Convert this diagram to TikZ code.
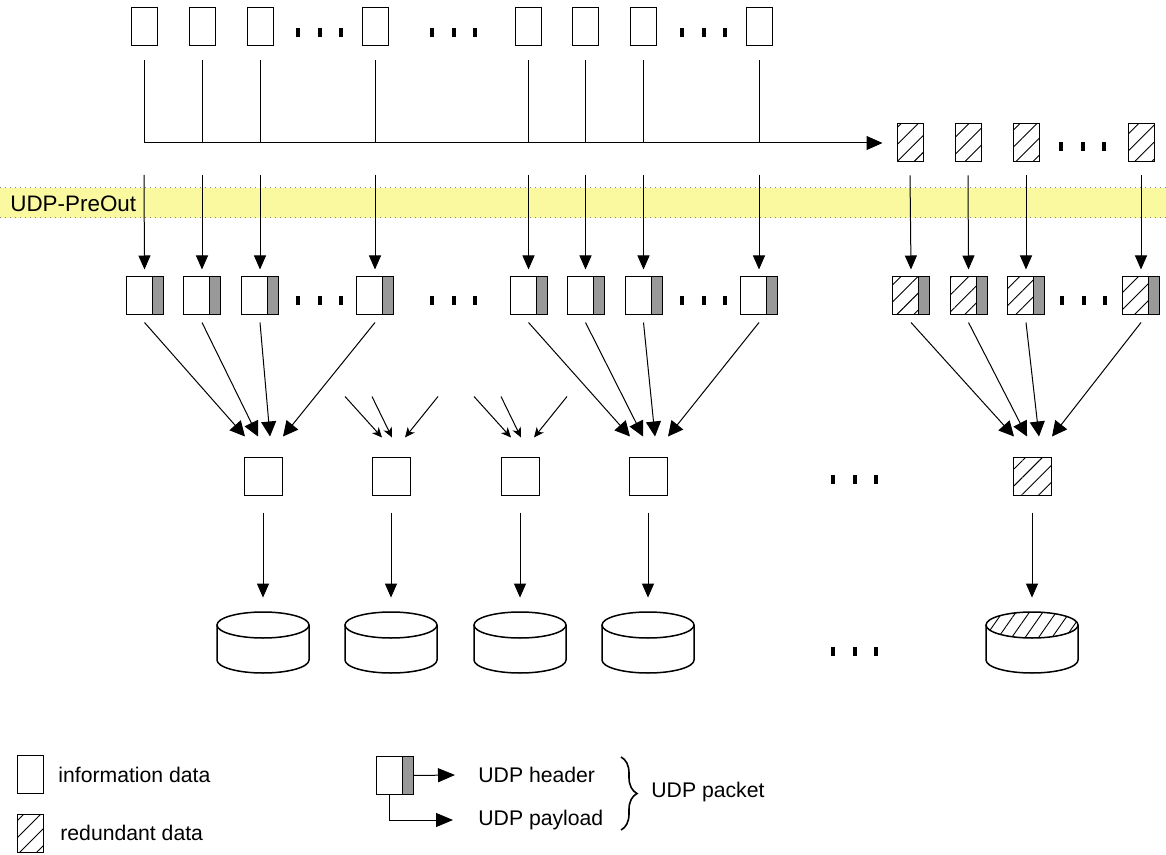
\documentclass[tikz,border=0pt]{standalone}
\usepackage{fontspec}
\setmainfont{Liberation Sans}
\usetikzlibrary{arrows.meta,patterns.meta,decorations.pathreplacing}
\definecolor{bandyellow}{RGB}{250,249,160}
\definecolor{hdrgray}{RGB}{153,153,153}
\newcommand\tridots[2]{\foreach \i in {0,1,2} \fill ({#1+21.5*\i-2},{#2-4.5}) rectangle ({#1+21.5*\i+2},{#2+4.5});}
\newcommand\cyl[2]{%
  \fill[white] (#1-46,625) -- (#1-46,660) arc[start angle=180,end angle=360,x radius=23pt,y radius=6.5pt] -- (#1+46,625) -- cycle;
  \draw[diskline] (#1-46,625) -- (#1-46,660) arc[start angle=180,end angle=360,x radius=23pt,y radius=6.5pt] -- (#1+46,625);
  \draw[diskline,#2] (#1,625) ellipse[x radius=23pt,y radius=6.5pt];}
\tikzset{
  x=0.5pt, y=-0.5pt,
  hatch/.style={pattern={Lines[angle=45,distance=6pt,line width=0.45pt]}},
  dhatch/.style={pattern={Lines[angle=55,distance=5.5pt,line width=0.45pt]}},
  databox/.style={draw, line width=0.5pt, fill=white, minimum width=13pt, minimum height=19pt, inner sep=0pt},
  redbox/.style={databox, postaction={hatch}},
  sinkbox/.style={draw, line width=0.5pt, fill=white, minimum width=19pt, minimum height=19pt, inner sep=0pt},
  redsink/.style={sinkbox, postaction={hatch}},
  packet/.style={draw, line width=0.5pt, fill=white, minimum width=18.5pt, minimum height=19pt, inner sep=0pt,
    path picture={\fill[hdrgray] ([xshift=-5.5pt]path picture bounding box.north east) rectangle (path picture bounding box.south east);
      \draw[line width=0.5pt] ([xshift=-5.5pt]path picture bounding box.north east) -- ([xshift=-5.5pt]path picture bounding box.south east);}},
  rpacket/.style={draw, line width=0.5pt, fill=white, minimum width=18.5pt, minimum height=19pt, inner sep=0pt,
    path picture={\fill[hatch] (path picture bounding box.north west) rectangle ([xshift=-5.5pt]path picture bounding box.south east);
      \fill[hdrgray] ([xshift=-5.5pt]path picture bounding box.north east) rectangle (path picture bounding box.south east);
      \draw[line width=0.5pt] ([xshift=-5.5pt]path picture bounding box.north east) -- ([xshift=-5.5pt]path picture bounding box.south east);}},
  diskpos/.style={minimum width=46pt, minimum height=30.5pt, inner sep=0pt},
  diskline/.style={line width=0.75pt},
  thinline/.style={line width=0.5pt},
  varr/.style={line width=0.5pt, -{Triangle[length=7pt,width=6pt]}},
  bigarr/.style={line width=0.5pt, -{Triangle[length=7.5pt,width=7.5pt]}},
  smallarr/.style={line width=0.5pt, -{Stealth[length=5pt,width=4.5pt,inset=1.5pt]}},
  larr/.style={line width=0.5pt, -{Triangle[length=8.5pt,width=7pt]}},
  lbl/.style={inner sep=0pt, font=\fontsize{10.6}{12}\selectfont},
}
\begin{document}
\begin{tikzpicture}
\useasboundingbox (0,0) rectangle (1166,855);
% band
\fill[bandyellow] (0,188) rectangle (1166,218);
\draw[gray, dotted, line width=0.5pt] (0,188) -- (1166,188);
\draw[gray, dotted, line width=0.5pt] (0,218) -- (1166,218);
\node[lbl, anchor=west, font=\fontsize{11.2}{13}\selectfont] (bandlbl) at (10,204) {UDP-PreOut};
\coordinate (bus) at (0,143);
\coordinate (bandtop) at (0,175);
% top data boxes
\foreach \n/\x in {1/144,2/202,3/260,4/375,5/528.5,6/585.5,7/643.5,8/759}
  \node[databox] (d\n) at (\x,27) {};
\foreach \n/\x in {1/910,2/968,3/1026,4/1141}
  \node[redbox] (r\n) at (\x,143) {};
% packets
\foreach \n/\x in {1/144.5,2/202,3/260,4/375,5/528.5,6/585.5,7/643.5,8/759}
  \node[packet] (p\n) at (\x,296) {};
\foreach \n/\x in {1/911,2/968.5,3/1026,4/1141}
  \node[rpacket] (q\n) at (\x,296) {};
% sinks
\foreach \n/\x in {1/263,2/391,3/520,4/648}
  \node[sinkbox] (s\n) at (\x,476) {};
\node[redsink] (s5) at (1032,476) {};
% disks
\foreach \n/\x in {1/263,2/391,3/520,4/648,5/1032}
  \node[diskpos] (k\n) at (\x,642.5) {};
\foreach \x in {263,391,520,648} {\cyl{\x}{fill=white}}
\cyl{1032}{fill=white, postaction={dhatch}}
% dots
\tridots{298}{32.5}
\tridots{432}{32.5}
\tridots{682}{32.5}
\tridots{1061}{147}
\tridots{298}{301}
\tridots{432}{301}
\tridots{682}{301}
\tridots{1062}{301}
\tridots{833}{479}
\tridots{833}{651}
% bus lines
\foreach \n in {1,...,8} {
  \draw[thinline] ([yshift=-7pt]d\n.south) -- (d\n.south |- bus);
  \draw[varr] (d\n.south |- bandtop) -- ([yshift=3.5pt]p\n.north);
}
\draw[line width=0.5pt, -{Triangle[length=8pt,width=7pt]}] (d1.south |- bus) -- ([xshift=-7pt]r1.west);
\foreach \n in {1,...,4}
  \draw[varr] ([yshift=-6.5pt]r\n.south) -- ([yshift=3.5pt]q\n.north);
% aggregation arrows
\foreach \src/\dx in {p1/-9,p2/-2.5,p3/3.5,p4/10}
  \draw[bigarr] ([yshift=-3.5pt]\src.south) -- ([xshift=\dx pt,yshift=10pt]s1.north);
\foreach \src/\dx in {p5/-9,p6/-2.5,p7/3.5,p8/10}
  \draw[bigarr] ([yshift=-3.5pt]\src.south) -- ([xshift=\dx pt,yshift=10pt]s4.north);
\foreach \src/\dx in {q1/-9,q2/-2.5,q3/3.5,q4/10}
  \draw[bigarr] ([yshift=-3.5pt]\src.south) -- ([xshift=\dx pt,yshift=10pt]s5.north);
\foreach \s in {2,3} {
  \coordinate (a\s a) at ([xshift=-23pt,yshift=30pt]s\s.north);
  \coordinate (a\s b) at ([xshift=-9.5pt,yshift=30pt]s\s.north);
  \coordinate (a\s c) at ([xshift=23.5pt,yshift=30pt]s\s.north);
  \draw[smallarr] (a\s a) -- ([xshift=-4.5pt,yshift=9.5pt]s\s.north);
  \draw[smallarr] (a\s b) -- ([xshift=0.5pt,yshift=9.5pt]s\s.north);
  \draw[smallarr] (a\s c) -- ([xshift=7pt,yshift=9.5pt]s\s.north);
}
% sink to disk
\foreach \n in {1,...,5}
  \draw[varr] ([yshift=-8.5pt]s\n.south) -- ([yshift=7pt]k\n.north);
% legend
\node[databox] (li) at (30.5,774.5) {};
\node[lbl, anchor=west] (tinfo) at (58,775) {information data};
\node[redbox] (lr) at (30.5,833) {};
\node[lbl, anchor=west] (tred) at (60,833) {redundant data};
\node[packet] (lp) at (394.5,775.5) {};
\node[lbl, anchor=west] (th) at (478,775) {UDP header};
\node[lbl, anchor=west] (tp) at (478,820) {UDP payload};
\draw[larr] (lp.east) -- ([xshift=-11.5pt]th.west);
\draw[larr] ([xshift=-2.75pt]lp.south) |- ([xshift=-12.5pt]tp.west);
\draw[line width=0.8pt, decorate, decoration={brace, amplitude=8pt}] (621,757) -- (621,830);
\node[lbl, anchor=west] (tpk) at (651,792) {UDP packet};
\end{tikzpicture}
\end{document}
